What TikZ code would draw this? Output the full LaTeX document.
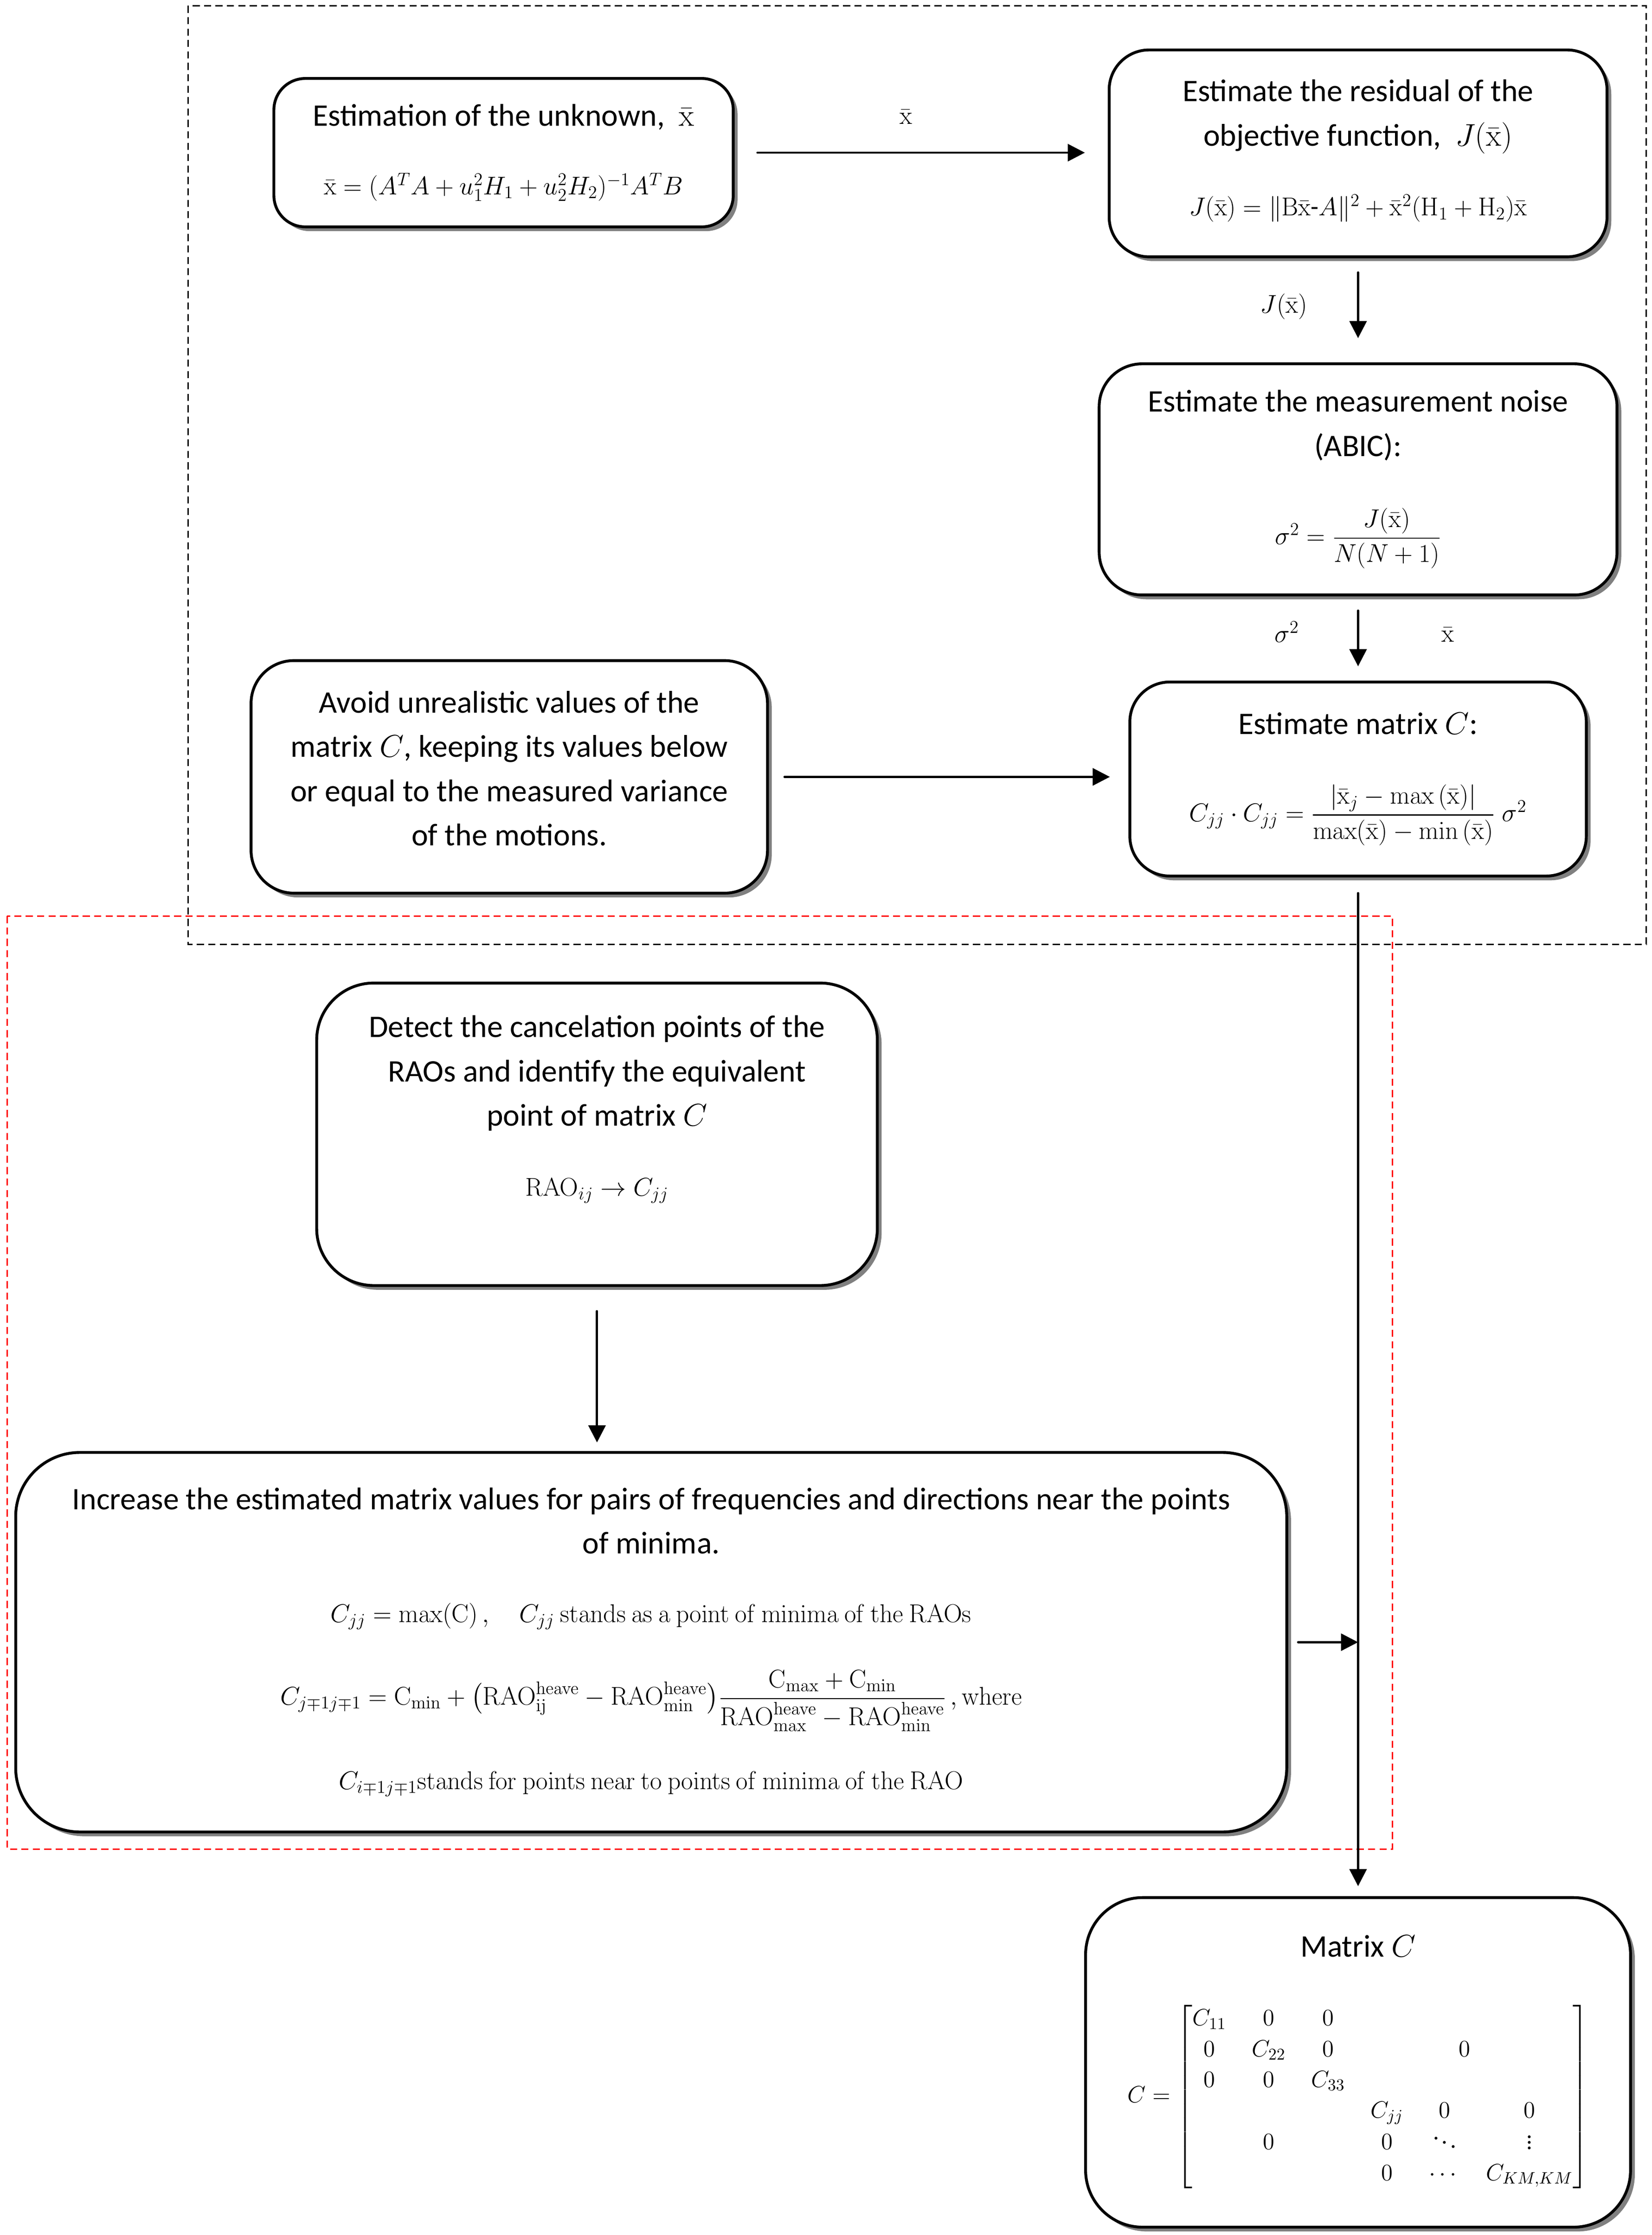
\RequirePackage{fix-cm}
\documentclass[tikz,border=0pt]{standalone}
\usepackage{amsmath}
\usepackage{amssymb}
\usepackage[no-math]{fontspec}
\setmainfont{Carlito}
\usepackage{tikz}
\usetikzlibrary{calc}
\usetikzlibrary{arrows.meta}
\usetikzlibrary{shadows}

\newcommand{\xb}{\bar{\mathrm{x}}}
\newcommand{\eqfont}{\fontsize{18}{24}\selectfont}
\newcommand{\matfont}{\fontsize{16.5}{21.5}\selectfont}

\tikzset{
    flowbox/.style={draw, line width=2pt, rounded corners=#1, fill=white,
        align=center, inner sep=0pt,
        drop shadow={shadow xshift=3pt, shadow yshift=-3pt, fill=gray, opacity=1}},
    flowbox/.default=28pt,
    flowarrow/.style={line width=1.6pt, line cap=round, -{Triangle[length=12pt,width=12pt]}},
    flowlabel/.style={font=\eqfont, inner sep=0pt},
    groupframe/.style={line width=1pt, dash pattern=on 5pt off 3pt}
}

\begin{document}
\begin{tikzpicture}[x=1pt, y=-1pt, font=\fontsize{22}{31}\selectfont]
    % Picture frame
    \useasboundingbox (0,0) rectangle (1158,1566.5);

    % Column of the right hand boxes
    \def\colx{952}

    % Calculate the centres of the boxes
    \coordinate (Pest) at (353, 107);
    \coordinate (Pres) at (\colx, 107.5);
    \coordinate (Pnoise) at (\colx, 336);
    \coordinate (Pcmat) at (\colx, 546);
    \coordinate (Pavoid) at (357, 544.5);
    \coordinate (Pdetect) at (418.5, 795);
    \coordinate (Pinc) at (456.5, 1151);
    \coordinate (Pmatc) at (\colx, 1445.5);

    % Draw the dashed group frames
    \draw[groupframe] (132,4) rectangle (1154,662);
    \draw[groupframe,red] (5,642) rectangle (976,1296);

    % Draw the boxes
    \node[flowbox=22pt, minimum width=322pt, minimum height=104pt] (est) at (Pest)
        {Estimation of the unknown,~ $\xb$\\[17pt]
         {\eqfont $\xb = (A^{T}A + u_1^2H_1 + u_2^2H_2)^{-1}A^{T}B$}};
    \node[flowbox, minimum width=349pt, minimum height=145pt] (res) at (Pres)
        {Estimate the residual of the\\
         objective function,~ $J(\xb)$\\[18pt]
         {\eqfont $J(\xb) = \lVert\mathrm{B}\xb\mbox{-}A\rVert^2 + \xb^2(\mathrm{H}_1 + \mathrm{H}_2)\xb$}\rule[-8pt]{0pt}{1pt}};
    \node[flowbox=30pt, minimum width=363pt, minimum height=162pt] (noise) at (Pnoise)
        {Estimate the measurement noise\\
         (ABIC):\\[31pt]
         {\eqfont $\sigma^2 = \dfrac{J(\xb)}{N(N+1)}$}};
    \node[flowbox, minimum width=320pt, minimum height=136pt] (cmat) at (Pcmat)
        {Estimate matrix $C$:\\[30pt]
         {\eqfont $C_{jj}\cdot C_{jj} = \dfrac{\left|\xb_j - \max\,(\xb)\right|}{\max(\xb) - \min\,(\xb)}\;\sigma^2$}};
    \node[flowbox=30pt, minimum width=362pt, minimum height=163pt] (avoid) at (Pavoid)
        {Avoid unrealistic values of the\\
         matrix $C$, keeping its values below\\
         or equal to the measured variance\\
         of the motions.\rule[-12pt]{0pt}{1pt}};
    \node[flowbox=40pt, minimum width=393pt, minimum height=212pt] (detect) at (Pdetect)
        {Detect the cancelation points of the\\
         RAOs and identify the equivalent\\
         point of matrix $C$\\[18pt]
         {\eqfont $\mathrm{RAO}_{ij} \rightarrow C_{jj}$}\rule[-40pt]{0pt}{1pt}};
    \node[flowbox=45pt, minimum width=891pt, minimum height=266pt] (inc) at (Pinc)
        {Increase the estimated matrix values for pairs of frequencies and directions near the points\\
         of minima.\\[17pt]
         {\eqfont $C_{jj} = \max(\mathrm{C})\,,\quad C_{jj}\ \mathrm{stands\ as\ a\ point\ of\ minima\ of\ the\ RAOs}$}\\[27pt]
         {\eqfont $C_{j\mp1j\mp1} = \mathrm{C}_{\min} + \bigl(\mathrm{RAO}^{\mathrm{heave}}_{\mathrm{ij}} - \mathrm{RAO}^{\mathrm{heave}}_{\min}\bigr)
            \dfrac{\mathrm{C}_{\max} + \mathrm{C}_{\min}}{\mathrm{RAO}^{\mathrm{heave}}_{\max} - \mathrm{RAO}^{\mathrm{heave}}_{\min}}\,,\mathrm{where}$}\\[27pt]
         {\eqfont $C_{i\mp1j\mp1}\mathrm{stands\ for\ points\ near\ to\ points\ of\ minima\ of\ the\ RAO}$}};
    \node[flowbox=40pt, minimum width=382pt, minimum height=231pt] (matc) at (Pmatc)
        {Matrix $C$\\[32pt]
         {\matfont \setlength{\arraycolsep}{9pt}$C = \begin{bmatrix}
            C_{11} & 0 & 0 & & & \\
            0 & C_{22} & 0 & & \rlap{\hspace{10pt}$0$} & \\
            0 & 0 & C_{33} & & & \\
            & & & C_{jj} & 0 & 0 \\
            & 0 & & 0 & \ddots & \vdots \\
            & & & 0 & \cdots & C_{KM,KM}
         \end{bmatrix}$}\rule[-20pt]{0pt}{1pt}};

    % Draw the connectors
    \draw[flowarrow, shorten <=16pt, shorten >=16pt] (est.east) -- (est.east -| res.west);
    \draw[flowarrow, shorten <=10pt, shorten >=17pt] (res.south) -- (noise.north);
    \draw[flowarrow, shorten <=10pt, shorten >=10pt] (noise.south) -- (cmat.north);
    \draw[flowarrow, shorten <=11pt, shorten >=13pt] (avoid.east) -- (avoid.east -| cmat.west);
    \draw[flowarrow, shorten <=11pt, shorten >=7pt] (cmat.south) -- (matc.north);
    \draw[flowarrow, shorten <=17pt, shorten >=6pt] (detect.south) -- (detect.south |- inc.north);
    \coordinate (joint) at (cmat.south |- inc.east);
    \draw[flowarrow, shorten <=7pt] (inc.east) -- (joint);

    % Connector labels
    \node[flowlabel] (lblx) at (635, 82) {$\xb$};
    \node[flowlabel] (lblj) at (900, 215) {$J(\xb)$};
    \node[flowlabel] (lbls) at (902, 443) {$\sigma^2$};
    \node[flowlabel] (lblxx) at (1015, 445) {$\xb$};

\end{tikzpicture}
\end{document}
